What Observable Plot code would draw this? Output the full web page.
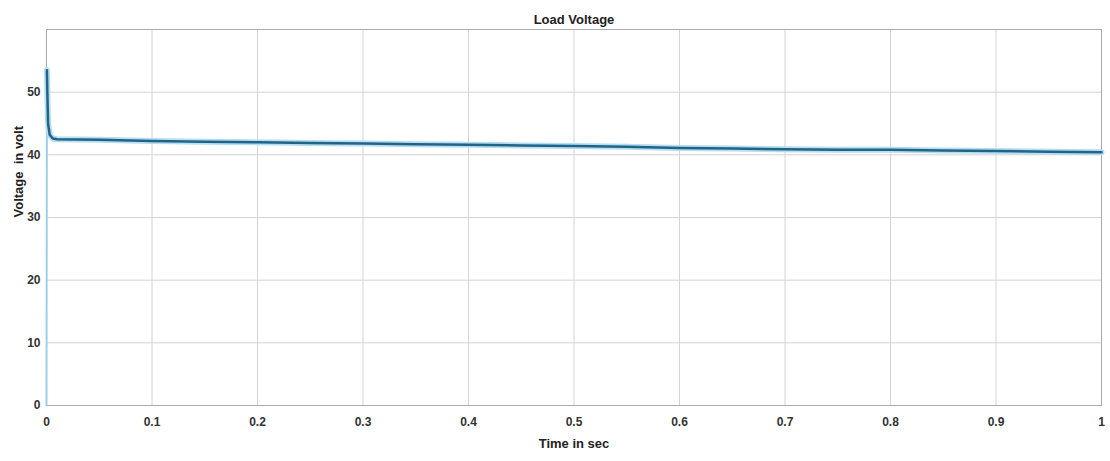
<!DOCTYPE html>
<html><head><meta charset="utf-8">
<script src="https://cdn.jsdelivr.net/npm/d3@7"></script>
<script src="https://cdn.jsdelivr.net/npm/@observablehq/plot@0.6"></script>
<style>
body{margin:0;background:#fff;}
svg{font-family:"Liberation Sans Narrow","Liberation Sans",Arial,sans-serif;}
</style></head><body>
<div id="chart"></div>
<script>
const time = [0, 0.0004, 0.0008, 0.0015, 0.003, 0.006, 0.01, 0.05, 0.1, 0.15, 0.2, 0.25, 0.3, 0.35, 0.4, 0.45, 0.5, 0.55, 0.6, 0.65, 0.7, 0.75, 0.8, 0.85, 0.9, 0.95, 1.0];
const voltage = [0, 53.5, 50, 45, 43.2, 42.6, 42.5, 42.4, 42.2, 42.1, 42.0, 41.9, 41.8, 41.7, 41.6, 41.5, 41.4, 41.3, 41.1, 41.0, 40.9, 40.8, 40.8, 40.7, 40.6, 40.5, 40.4];
const xTicks = [0, 0.1, 0.2, 0.3, 0.4, 0.5, 0.6, 0.7, 0.8, 0.9, 1];
const yTicks = [0, 10, 20, 30, 40, 50];
const data = time.map((t, i) => ({t, v: voltage[i]}));
const rise = data.slice(0, 2);
const main = data.slice(1);

const chart = Plot.plot({
  width: 1110, height: 461,
  marginLeft: 46, marginRight: 9, marginTop: 29, marginBottom: 56,
  style: {fontSize: "12px", fontWeight: "bold", color: "#333"},
  x: {domain: [0, 1], label: null},
  y: {domain: [0, 60], label: null},
  marks: [
    Plot.gridX(xTicks, {stroke: "#d4d4d4", strokeOpacity: 1}),
    Plot.gridY(yTicks, {stroke: "#d4d4d4", strokeOpacity: 1}),
    Plot.frame({stroke: "#aaa"}),
    Plot.axisX({ticks: xTicks, tickFormat: d => String(d), tickSize: 0, tickPadding: 12, label: null}),
    Plot.axisY({ticks: yTicks, tickSize: 0, tickPadding: 6, label: null}),
    Plot.line(rise, {x: "t", y: "v", stroke: "#9fcfe6", strokeWidth: 2}),
    Plot.line(main, {x: "t", y: "v", stroke: "#b5def0", strokeWidth: 6}),
    Plot.line(main, {x: "t", y: "v", stroke: "#22638a", strokeWidth: 2.5}),
    Plot.text(["Load Voltage"], {frameAnchor: "top", dy: -15, fontSize: 13, fontWeight: "bold", fill: "#222"}),
    Plot.text(["Time in sec"], {frameAnchor: "bottom", dy: 42, fontSize: 13, fontWeight: "bold", fill: "#222"}),
    Plot.text(["Voltage  in volt"], {frameAnchor: "left", dx: -28, rotate: -90, fontSize: 13, fontWeight: "bold", fill: "#222"})
  ]
});
document.getElementById("chart").append(chart);
</script>
</body></html>
